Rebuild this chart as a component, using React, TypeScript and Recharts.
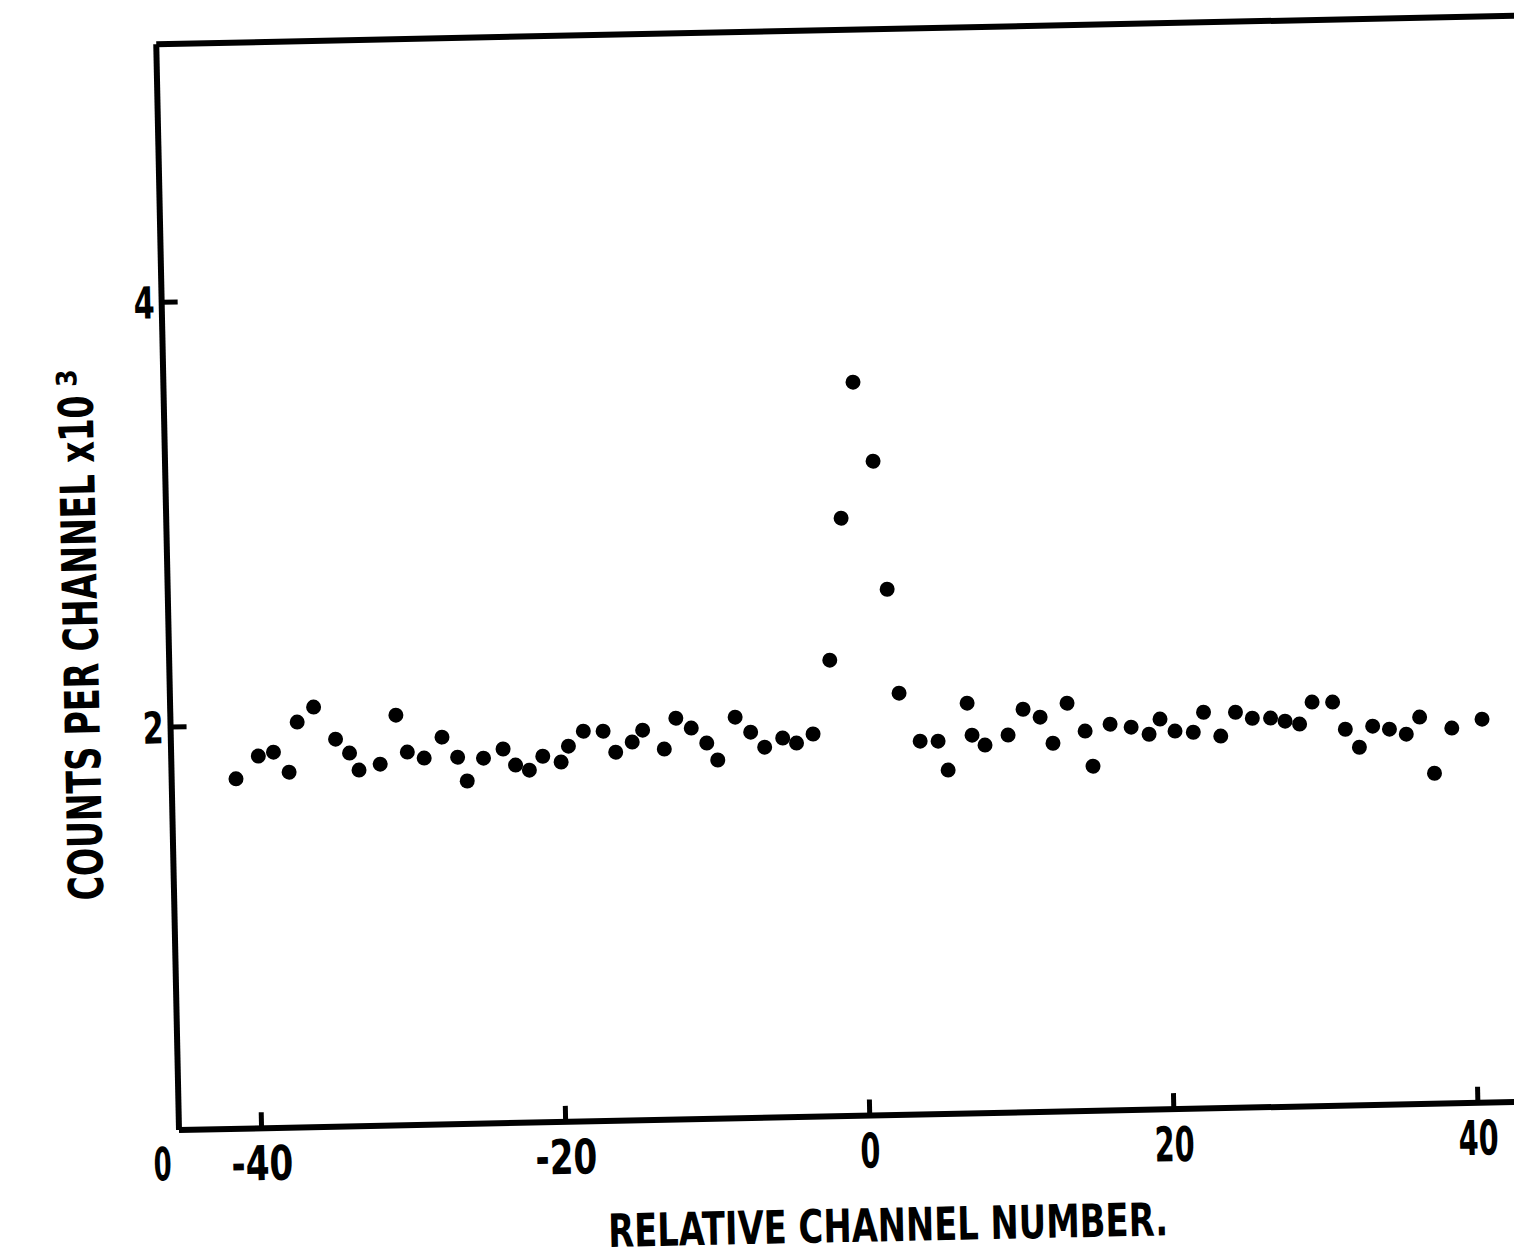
import React from 'react';
import {
  ScatterChart,
  Scatter,
  XAxis,
  YAxis,
  ReferenceLine,
} from 'recharts';

// relative channel number of each plotted point
const channels = [
  -41.2, -39.7, -38.7, -37.7, -37.1, -36.0, -34.6, -33.7, -33.1, -31.7,
  -30.6, -29.9, -28.8, -27.6, -26.6, -26.0, -24.9, -23.6, -22.8, -21.9,
  -21.0, -19.8, -19.3, -18.3, -17.0, -16.2, -15.1, -14.4, -13.0, -12.2,
  -11.2, -10.2, -9.5, -8.3, -7.3, -6.4, -5.2, -4.3, -3.2, -2.0,
  -1.06, -0.09, 1.12, 1.87, 2.51, 3.83, 5.01, 5.63, 6.97, 7.25,
  8.09, 9.62, 10.64, 11.75, 12.56, 13.54, 14.69, 15.16, 16.34, 17.72,
  18.89, 19.63, 20.6, 21.8, 22.5, 23.6, 24.6, 25.7, 26.9, 27.85,
  28.8, 29.65, 31.0, 31.8, 32.7, 33.6, 34.7, 35.8, 36.7, 37.6,
  38.8, 40.8,
];

// counts per channel (x10^3)
const counts = [
  1.75, 1.855, 1.872, 1.776, 2.011, 2.08, 1.927, 1.86, 1.779, 1.805,
  2.034, 1.859, 1.829, 1.926, 1.83, 1.717, 1.823, 1.864, 1.787, 1.762,
  1.826, 1.797, 1.871, 1.94, 1.938, 1.838, 1.884, 1.939, 1.848, 1.992,
  1.944, 1.872, 1.791, 1.991, 1.919, 1.847, 1.888, 1.863, 1.904, 2.25,
  2.917, 3.556, 3.182, 2.578, 2.088, 1.86, 1.858, 1.721, 2.034, 1.883,
  1.835, 1.88, 2.0, 1.961, 1.837, 2.024, 1.891, 1.725, 1.921, 1.905,
  1.87, 1.94, 1.882, 1.875, 1.968, 1.854, 1.965, 1.935, 1.934, 1.918,
  1.903, 2.005, 2.003, 1.874, 1.788, 1.886, 1.87, 1.845, 1.924, 1.658,
  1.869, 1.908,
];

const xTicks = [-40, -20, 0, 20, 40];
const X_MIN = -45.43;
const X_MAX = 44;
const Y_MIN = 0.103;
const Y_MAX = 5.215;
const yTicks = [Y_MIN, 2, 4];

const FONT = "'DejaVu Sans Condensed', 'Liberation Sans Narrow', 'DejaVu Sans', sans-serif";

const data = channels.map((c, i) => ({ channel: c, counts: counts[i] }));

function tickLen(label: string) {
  let w = 0;
  for (const ch of label) w += ch === '-' ? 22 : 20;
  return w;
}

function XTick(props: any) {
  const { x, y, payload } = props;
  const label = String(payload.value);
  return (
    <g>
      <line x1={x} x2={x} y1={y} y2={y - 16} stroke="#000" strokeWidth={5} />
      <text
        x={x}
        y={y + 52}
        textAnchor="middle"
        fontFamily={FONT}
        fontWeight="bold"
        fontSize={48}
        textLength={tickLen(label)}
        lengthAdjust="spacingAndGlyphs"
        fill="#000"
      >
        {label}
      </text>
    </g>
  );
}

function YTick(props: any) {
  const { x, y, payload } = props;
  if (payload.value === Y_MIN) {
    return (
      <text
        x={x - 17}
        y={y + 50}
        textAnchor="middle"
        fontFamily={FONT}
        fontWeight="bold"
        fontSize={46}
        textLength={18}
        lengthAdjust="spacingAndGlyphs"
        fill="#000"
      >
        0
      </text>
    );
  }
  return (
    <g>
      <line x1={x} x2={x + 16} y1={y} y2={y} stroke="#000" strokeWidth={5} />
      <text
        x={x - 7}
        y={y + 16}
        textAnchor="end"
        fontFamily={FONT}
        fontWeight="bold"
        fontSize={44}
        textLength={21}
        lengthAdjust="spacingAndGlyphs"
        fill="#000"
      >
        {payload.value}
      </text>
    </g>
  );
}

function XLabel(props: any) {
  const { viewBox } = props;
  return (
    <text
      x={viewBox.x + 707}
      y={viewBox.y + 126}
      textAnchor="middle"
      fontFamily={FONT}
      fontWeight="bold"
      fontSize={46}
      textLength={560}
      lengthAdjust="spacingAndGlyphs"
      fill="#000"
    >
      RELATIVE CHANNEL NUMBER.
    </text>
  );
}

function YLabel(props: any) {
  const { viewBox } = props;
  const bx = viewBox.x + 100;
  const cy = viewBox.y + 602;
  const sx = viewBox.x + 84;
  const sy = viewBox.y + 332;
  return (
    <g>
      <text
        x={bx}
        y={cy}
        transform={`rotate(-90 ${bx} ${cy})`}
        textAnchor="middle"
        fontFamily={FONT}
        fontWeight="bold"
        fontSize={48}
        textLength={505}
        lengthAdjust="spacingAndGlyphs"
        fill="#000"
      >
        COUNTS PER CHANNEL x10
      </text>
      <text
        x={sx}
        y={sy}
        transform={`rotate(-90 ${sx} ${sy})`}
        textAnchor="middle"
        fontFamily={FONT}
        fontWeight="bold"
        fontSize={28}
        fill="#000"
      >
        3
      </text>
    </g>
  );
}

const Dot = (props: any) => <circle cx={props.cx} cy={props.cy} r={7.5} fill="#000" />;

export default function App() {
  return (
    <div style={{ width: 1514, height: 1249, overflow: 'hidden', position: 'relative', background: '#fff' }}>
      <div style={{ transform: 'rotate(-1.2deg)', transformOrigin: '171px 1122px', width: 1531, height: 1280 }}>
        <ScatterChart width={1531} height={1280} margin={{ top: 36, right: 0, bottom: 0, left: 0 }}>
          <XAxis
            type="number"
            dataKey="channel"
            domain={[X_MIN, X_MAX]}
            ticks={xTicks}
            allowDataOverflow
            height={158}
            tickSize={0}
            tickMargin={0}
            tickLine={false}
            axisLine={{ stroke: '#000', strokeWidth: 6 }}
            tick={(p: any) => <XTick {...p} />}
            label={<XLabel />}
          />
          <YAxis
            type="number"
            dataKey="counts"
            domain={[Y_MIN, Y_MAX]}
            ticks={yTicks}
            allowDataOverflow
            width={171}
            tickSize={0}
            tickMargin={0}
            tickLine={false}
            axisLine={{ stroke: '#000', strokeWidth: 6 }}
            tick={(p: any) => <YTick {...p} />}
            label={<YLabel />}
          />
          <ReferenceLine y={Y_MAX} stroke="#000" strokeWidth={6} />
          <Scatter data={data} fill="#000" shape={Dot} isAnimationActive={false} />
        </ScatterChart>
      </div>
    </div>
  );
}
